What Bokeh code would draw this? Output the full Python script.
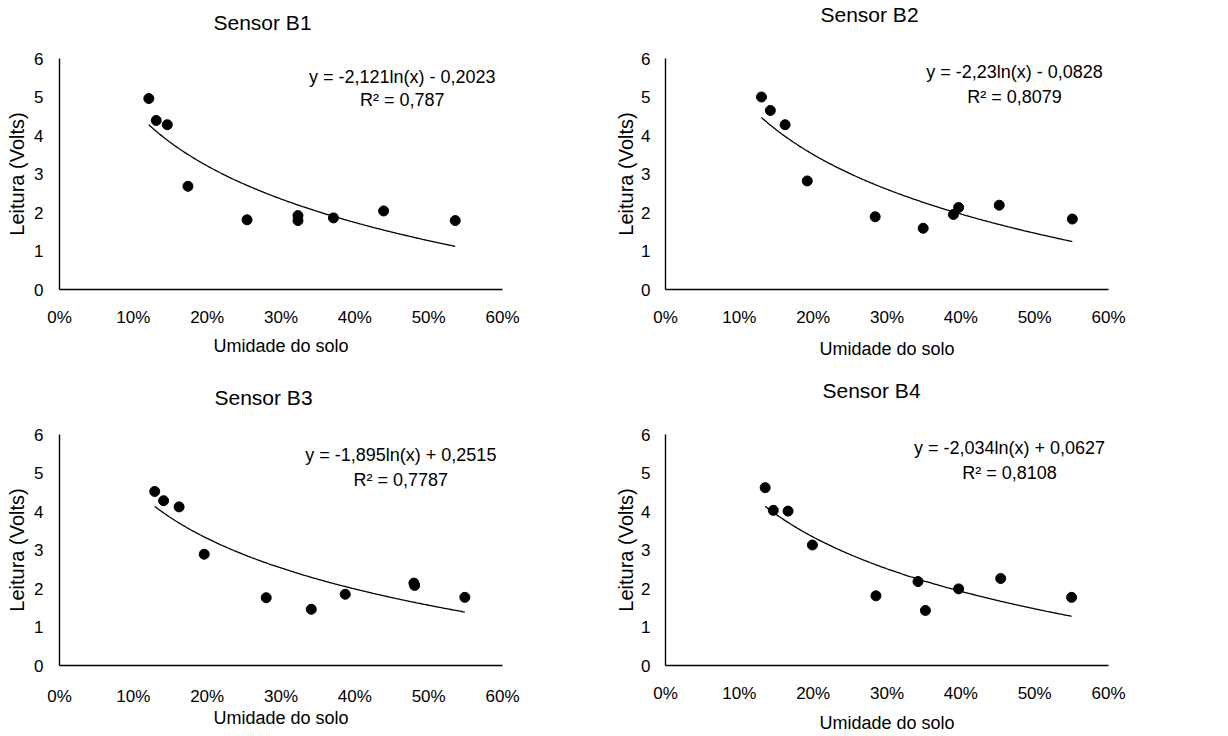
import numpy as np
from bokeh.plotting import figure
from bokeh.models import Range1d, FixedTicker, NumeralTickFormatter, Label, Title
from bokeh.layouts import column, row
from bokeh.embed import file_html
from bokeh.resources import INLINE

# ---------------- data ----------------
titles = ["Sensor B1", "Sensor B2", "Sensor B3", "Sensor B4"]

b1_umidade = [0.121, 0.131, 0.146, 0.174, 0.254, 0.323, 0.323, 0.371, 0.439, 0.536]
b1_leitura = [4.96, 4.39, 4.28, 2.68, 1.81, 1.92, 1.79, 1.86, 2.04, 1.79]

b2_umidade = [0.130, 0.142, 0.162, 0.192, 0.284, 0.349, 0.390, 0.397, 0.452, 0.551]
b2_leitura = [5.00, 4.65, 4.28, 2.82, 1.89, 1.59, 1.95, 2.13, 2.19, 1.83]

b3_umidade = [0.129, 0.141, 0.162, 0.196, 0.280, 0.341, 0.387, 0.480, 0.481, 0.549]
b3_leitura = [4.52, 4.28, 4.12, 2.89, 1.76, 1.46, 1.85, 2.14, 2.08, 1.77]

b4_umidade = [0.135, 0.146, 0.166, 0.199, 0.285, 0.342, 0.352, 0.397, 0.454, 0.550]
b4_leitura = [4.62, 4.03, 4.01, 3.13, 1.81, 2.18, 1.43, 1.99, 2.26, 1.77]

# trendline y = a*ln(x) + b
coef_a = [-2.121, -2.23, -1.895, -2.034]
coef_b = [-0.2023, -0.0828, 0.2515, 0.0627]
eq_texts = ["y = -2,121ln(x) - 0,2023", "y = -2,23ln(x) - 0,0828",
            "y = -1,895ln(x) + 0,2515", "y = -2,034ln(x) + 0,0627"]
r2_texts = ["R\u00b2 = 0,787", "R\u00b2 = 0,8079", "R\u00b2 = 0,7787", "R\u00b2 = 0,8108"]

x_ticks = [0, 0.1, 0.2, 0.3, 0.4, 0.5, 0.6]
y_ticks = [0, 1, 2, 3, 4, 5, 6]
x_label = "Umidade do solo"
y_label = "Leitura (Volts)"

# ---------------- layout / style ----------------
FONT = "Liberation Sans"
INK = "black"
# figure size, borders (l, t, r, b), x tick standoff, x label standoff,
# y tick standoff, y label standoff, title offset, title gap above frame
layout_cfg = [
    dict(w=610, h=361, l=59, t=58, r=108, b=70, xs=18, xl=6, ys=16, yl=3, to=154, gap=22),
    dict(w=616, h=361, l=55, t=58, r=118, b=70, xs=18, xl=9, ys=15, yl=1, to=155, gap=30),
    dict(w=610, h=374, l=59, t=73, r=108, b=69, xs=21, xl=-1, ys=16, yl=3, to=155, gap=23),
    dict(w=616, h=374, l=55, t=73, r=118, b=69, xs=18, xl=7, ys=15, yl=1, to=157, gap=30),
]
eq_pos = [(0.4642, 5.519, 4.919), (0.4727, 5.648, 5.004),
          (0.4623, 5.464, 4.818), (0.4659, 5.638, 4.991)]

series = [(b1_umidade, b1_leitura), (b2_umidade, b2_leitura),
          (b3_umidade, b3_leitura), (b4_umidade, b4_leitura)]


def make_panel(i):
    c = layout_cfg[i]
    xs, ys = series[i]
    p = figure(width=c["w"], height=c["h"], output_backend="svg", toolbar_location=None,
               x_range=Range1d(0, 0.6), y_range=Range1d(0, 6),
               min_border_left=c["l"], min_border_top=c["t"],
               min_border_right=c["r"], min_border_bottom=c["b"])
    p.xgrid.visible = False
    p.ygrid.visible = False
    p.outline_line_color = None
    p.background_fill_color = "white"
    p.border_fill_color = "white"

    # spacer between frame and title (keeps the title higher)
    p.add_layout(Title(text=" ", text_font_size="1px", standoff=c["gap"]), "above")

    p.title.text = titles[i]
    p.title.align = "left"
    p.title.offset = c["to"]
    p.title.standoff = 0
    p.title.vertical_align = "bottom"
    p.title.text_font = FONT
    p.title.text_font_size = "21px"
    p.title.text_font_style = "normal"
    p.title.text_color = INK

    p.xaxis.ticker = FixedTicker(ticks=x_ticks)
    p.xaxis.formatter = NumeralTickFormatter(format="0%")
    p.yaxis.ticker = FixedTicker(ticks=y_ticks)
    for ax in (p.xaxis[0], p.yaxis[0]):
        ax.axis_line_color = INK
        ax.axis_line_width = 1.4
        ax.major_tick_out = 0
        ax.major_tick_in = 0
        ax.minor_tick_out = 0
        ax.minor_tick_in = 0
        ax.major_label_text_font = FONT
        ax.major_label_text_font_size = "17px"
        ax.major_label_text_color = INK
        ax.axis_label_text_font = FONT
        ax.axis_label_text_font_style = "normal"
        ax.axis_label_text_color = INK
    p.xaxis.axis_label = x_label
    p.xaxis.axis_label_text_font_size = "18px"
    p.xaxis.major_label_standoff = c["xs"]
    p.xaxis.axis_label_standoff = c["xl"]
    p.yaxis.axis_label = y_label
    p.yaxis.axis_label_text_font_size = "20px"
    p.yaxis.major_label_standoff = c["ys"]
    p.yaxis.axis_label_standoff = c["yl"]

    # trendline
    xx = np.linspace(min(xs), max(xs), 200)
    yy = coef_a[i] * np.log(xx) + coef_b[i]
    p.line(xx, yy, line_color=INK, line_width=1.3)
    # points
    p.scatter(xs, ys, size=10, color=INK)

    ex, ey1, ey2 = eq_pos[i]
    p.add_layout(Label(x=ex, y=ey1, text=eq_texts[i], text_align="center",
                       text_baseline="middle", text_font=FONT,
                       text_font_size="18px", text_color=INK))
    p.add_layout(Label(x=ex, y=ey2, text=r2_texts[i], text_align="center",
                       text_baseline="middle", text_font=FONT,
                       text_font_size="18px", text_color=INK))
    return p


panels = [make_panel(i) for i in range(4)]
page = column(row(panels[0], panels[1]), row(panels[2], panels[3]))

open("out.html", "w").write(file_html(page, INLINE))
